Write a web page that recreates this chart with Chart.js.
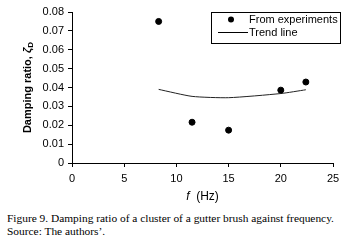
<!DOCTYPE html>
<html lang="en">
<head>
    <meta charset="UTF-8">
    <title>damping ratio</title>
    <script src="https://cdn.jsdelivr.net/npm/chart.js"></script>
    <style>
        body { margin: 0; background: #fff; width: 354px; height: 246px; overflow: hidden; position: relative; }
        #wrap { position: absolute; left: 0; top: 0; width: 354px; height: 206px; }
        #caption { position: absolute; left: 7px; top: 212px; font: 11.4px "Liberation Serif", "Times New Roman", serif; line-height: 13px; color: #000; white-space: nowrap; }
    </style>
</head>
<body>
    <div id="wrap"><canvas id="myChart" width="354" height="206"></canvas></div>
    <div id="caption">Figure 9. Damping ratio of a cluster of a gutter brush against frequency.<br>Source: The authors’.</div>

    <script>
        // measured points
        const freqExp = [8.3, 11.5, 15.0, 20.0, 22.4]
        const dampExp = [0.075, 0.0216, 0.0174, 0.0386, 0.0429]
        // trend line
        const freqTrend = [8.3, 11.5, 15.0, 20.0, 22.4]
        const dampTrend = [0.039, 0.0353, 0.0346, 0.0368, 0.0388]
        const xTicks = [0, 5, 10, 15, 20, 25]
        const yTicks = [0, 0.01, 0.02, 0.03, 0.04, 0.05, 0.06, 0.07, 0.08]
        const seriesNames = ['From experiments', 'Trend line']

        const FONT = '"Liberation Sans", Arial, sans-serif'

        // axis titles + boxed legend drawn by hand
        const extras = {
            id: 'extras',
            afterDraw(chart) {
                const c = chart.ctx
                const area = chart.chartArea
                c.save()
                c.fillStyle = '#000'

                // y title
                c.save()
                c.translate(28, (area.top + area.bottom) / 2)
                c.rotate(-Math.PI / 2)
                let t1 = 'Damping ratio, '
                c.font = 'bold 11px ' + FONT
                let w1 = c.measureText(t1).width
                c.font = 'italic bold 11px ' + FONT
                let w2 = c.measureText('ζ').width
                c.font = 'bold 8px ' + FONT
                let w3 = c.measureText('D').width
                let x0 = -(w1 + w2 + w3) / 2
                c.textBaseline = 'middle'
                c.textAlign = 'left'
                c.font = 'bold 11px ' + FONT
                c.fillText(t1, x0, 0)
                c.font = 'italic bold 11px ' + FONT
                c.fillText('ζ', x0 + w1, 0)
                c.font = 'bold 8px ' + FONT
                c.fillText('D', x0 + w1 + w2, 3)
                c.restore()

                // x title
                c.textBaseline = 'middle'
                c.textAlign = 'left'
                c.font = 'italic 12px ' + FONT
                let a = 'f'
                let wa = c.measureText(a).width
                c.font = '12px ' + FONT
                let b = '  (Hz)'
                let wb = c.measureText(b).width
                let xs = (area.left + area.right) / 2 - (wa + wb) / 2
                c.font = 'italic 12px ' + FONT
                c.fillText(a, xs, 197)
                c.font = '12px ' + FONT
                c.fillText(b, xs + wa, 197)

                // legend box
                c.strokeStyle = '#000'
                c.lineWidth = 1
                c.strokeRect(211.5, 12.5, 129, 31)
                c.beginPath()
                c.arc(231, 19.5, 3, 0, Math.PI * 2)
                c.fill()
                c.beginPath()
                c.moveTo(218, 32.5)
                c.lineTo(248, 32.5)
                c.stroke()
                c.font = '11px ' + FONT
                c.fillText(seriesNames[0], 249, 19.5)
                c.fillText(seriesNames[1], 249, 32.5)
                c.restore()
            }
        }

        var ctx = document.getElementById('myChart')
        var myChart = new Chart(ctx, {
            type: 'scatter',
            data: {
                datasets: [{
                    label: seriesNames[0],
                    data: freqExp.map((f, i) => ({ x: f, y: dampExp[i] })),
                    backgroundColor: '#000',
                    borderColor: '#000',
                    pointRadius: 3,
                    showLine: false
                }, {
                    label: seriesNames[1],
                    data: freqTrend.map((f, i) => ({ x: f, y: dampTrend[i] })),
                    borderColor: '#222',
                    borderWidth: 1,
                    pointRadius: 0,
                    showLine: true,
                    tension: 0.2
                }]
            },
            options: {
                responsive: false,
                animation: false,
                events: [],
                layout: { padding: { top: 12, right: 21, left: 0, bottom: 0 } },
                plugins: { legend: { display: false }, tooltip: { enabled: false } },
                scales: {
                    x: {
                        type: 'linear',
                        min: 0, max: 25,
                        afterBuildTicks: s => { s.ticks = xTicks.map(v => ({ value: v })) },
                        afterFit: s => { s.height = 43 },
                        grid: { display: true, drawOnChartArea: false, drawTicks: true, tickLength: 4, color: '#000' },
                        border: { display: true, color: '#000', width: 1 },
                        ticks: { color: '#000', font: { family: FONT, size: 11 }, padding: 5, maxRotation: 0 }
                    },
                    y: {
                        min: 0, max: 0.08,
                        afterBuildTicks: s => { s.ticks = yTicks.map(v => ({ value: v })) },
                        afterFit: s => { s.width = 72 },
                        grid: { display: true, drawOnChartArea: false, drawTicks: true, tickLength: 4, color: '#000' },
                        border: { display: true, color: '#000', width: 1 },
                        ticks: {
                            color: '#000', font: { family: FONT, size: 11 }, padding: 4,
                            callback: v => v === 0 ? '0' : v.toFixed(2)
                        }
                    }
                }
            },
            plugins: [extras]
        })
    </script>
</body>
</html>
